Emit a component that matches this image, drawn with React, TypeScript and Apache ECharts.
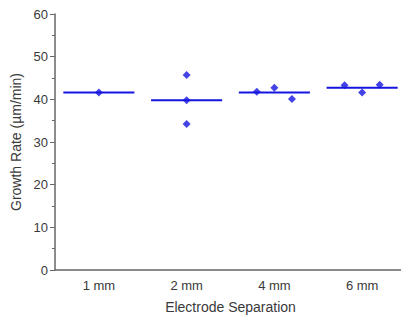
import React, { useEffect, useRef } from "react";
import * as echarts from "echarts";

const categories = ["1 mm", "2 mm", "4 mm", "6 mm"];
const groupValues: number[][] = [
  [41.6],
  [45.7, 39.8, 34.2],
  [41.8, 42.7, 40.1],
  [43.3, 41.6, 43.4],
];
const groupMeans = [41.6, 39.8, 41.6, 42.7];
const yTicks = { min: 0, max: 60, interval: 10 };

// horizontal spread of points within a category (layout only)
const spread = [0, 0, 0.2, 0.2];

export default function App() {
  const ref = useRef<HTMLDivElement>(null);
  useEffect(() => {
    if (!ref.current) return;
    const chart = echarts.init(ref.current, undefined, { renderer: "svg" });
    const points: number[][] = [];
    groupValues.forEach((vals, gi) => {
      const n = vals.length;
      vals.forEach((v, i) => {
        const off = n > 1 ? (i - (n - 1) / 2) * spread[gi] : 0;
        points.push([gi + off, v]);
      });
    });
    const textColor = "#3a3a3a";
    const axisColor = "#666";
    const blue = "#1515e0";
    chart.setOption({
      animation: false,
      textStyle: { fontFamily: "Liberation Sans, Arial, sans-serif" },
      grid: { left: 55, top: 14, bottom: 50, width: 351, outerBoundsMode: "none", containLabel: false },
      xAxis: [
        {
          type: "category",
          data: categories,
          boundaryGap: true,
          name: "Electrode Separation",
          nameLocation: "middle",
          nameGap: 30,
          nameTextStyle: { fontSize: 14, color: textColor },
          axisLine: { onZero: false, lineStyle: { color: axisColor, width: 1.5 } },
          axisTick: { alignWithLabel: true, length: 5, lineStyle: { color: axisColor } },
          axisLabel: { fontSize: 13, color: textColor, margin: 9 },
          splitLine: { show: false },
        },
        {
          type: "value",
          min: -0.5,
          max: 3.5,
          show: false,
        },
      ],
      yAxis: {
        type: "value",
        min: yTicks.min,
        max: yTicks.max,
        interval: yTicks.interval,
        name: "Growth Rate (\u00b5m/min)",
        nameLocation: "middle",
        nameGap: 29,
        nameTextStyle: { fontSize: 14, color: textColor },
        axisLine: { show: true, onZero: false, lineStyle: { color: axisColor, width: 1.5 } },
        axisTick: { show: true, length: 5, lineStyle: { color: axisColor } },
        minorTick: { show: true, splitNumber: 2, length: 3, lineStyle: { color: axisColor } },
        axisLabel: { fontSize: 13, color: textColor, margin: 7 },
        splitLine: { show: false },
      },
      series: [
        {
          type: "custom",
          xAxisIndex: 1,
          data: groupMeans.map((m, i) => [i, m]),
          renderItem: (params: any, api: any) => {
            const x = api.value(0);
            const y = api.value(1);
            const p1 = api.coord([x - 0.405, y]);
            const p2 = api.coord([x + 0.405, y]);
            return {
              type: "line",
              shape: { x1: p1[0], y1: p1[1], x2: p2[0], y2: p2[1] },
              style: { stroke: blue, lineWidth: 2 },
            };
          },
        },
        {
          type: "scatter",
          xAxisIndex: 1,
          symbol: "diamond",
          symbolSize: 8,
          itemStyle: { color: blue },
          data: points,
        },
      ],
    });
    return () => chart.dispose();
  }, []);
  return (
    <div
      ref={ref}
      style={{ position: "fixed", left: 0, top: 0, width: 401, height: 320, background: "#fff" }}
    />
  );
}
